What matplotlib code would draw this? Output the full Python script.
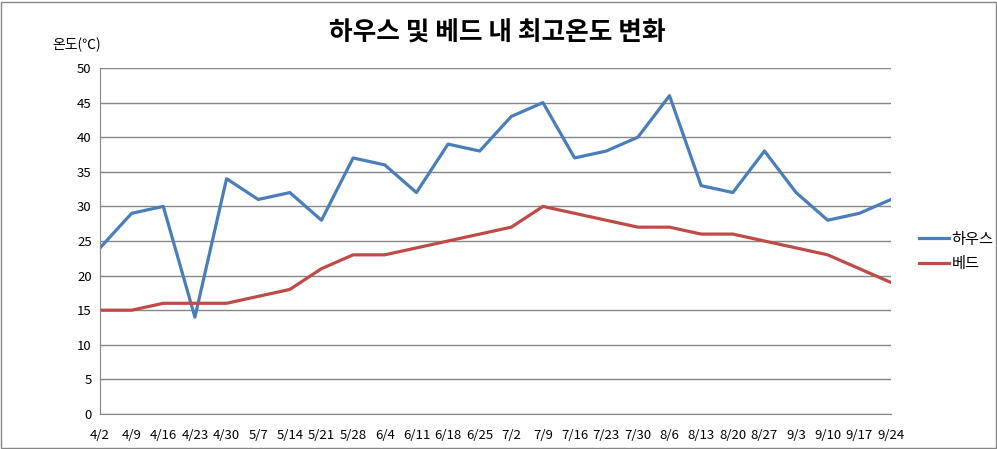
import matplotlib.pyplot as plt
from matplotlib.patches import Rectangle

plt.rcParams['font.family'] = ['Noto Sans CJK KR', 'DejaVu Sans']

# 날짜 (주 단위)
dates = ['4/2', '4/9', '4/16', '4/23', '4/30', '5/7', '5/14', '5/21', '5/28',
         '6/4', '6/11', '6/18', '6/25', '7/2', '7/9', '7/16', '7/23', '7/30',
         '8/6', '8/13', '8/20', '8/27', '9/3', '9/10', '9/17', '9/24']
house = [24, 29, 30, 14, 34, 31, 32, 28, 37, 36, 32, 39, 38, 43, 45, 37, 38, 40,
         46, 33, 32, 38, 32, 28, 29, 31]
bed = [15, 15, 16, 16, 16, 17, 18, 21, 23, 23, 24, 25, 26, 27, 30, 29, 28, 27,
       27, 26, 26, 25, 24, 23, 21, 19]
yticks = list(range(0, 51, 5))

fig = plt.figure(figsize=(9.97, 4.49), dpi=100)
ax = fig.add_axes([100 / 997, 35 / 449, 791 / 997, 346 / 449])

x = list(range(len(dates)))
ax.plot(x, house, color='#4A7EBB', linewidth=2.3, label='하우스')
ax.plot(x, bed, color='#BE4B48', linewidth=2.3, label='베드')

ax.set_xlim(0, len(dates) - 1)
ax.set_ylim(0, 50)
ax.set_yticks(yticks)
ax.set_xticks(x)
ax.set_xticklabels(dates)
ax.tick_params(length=0, labelsize=9.5, pad=6)
ax.tick_params(axis='x', pad=11)
ax.grid(axis='y', color='#868686', linewidth=1)
ax.set_axisbelow(True)
for s in ['top', 'right']:
    ax.spines[s].set_visible(False)
for s in ['left', 'bottom']:
    ax.spines[s].set_color('#868686')

ax.legend(loc='center left', bbox_to_anchor=(805 / 791, 0.47),
          frameon=False, fontsize=11, handlelength=2.0, labelspacing=0.5,
          handletextpad=0.15)

fig.text(497 / 997, 1 - 33 / 449, '하우스 및 베드 내 최고온도 변화',
         ha='center', va='center', fontsize=18.5, fontweight='bold')
fig.text(77 / 997, 1 - 45 / 449, '온도(℃)', ha='center', va='center', fontsize=10)

fig.patches.append(Rectangle((0.5 / 997, 1.5 / 449), 995 / 997, 446 / 449,
                             transform=fig.transFigure, fill=False,
                             edgecolor='#868686', linewidth=1))

fig.savefig('out.png', dpi=100)
